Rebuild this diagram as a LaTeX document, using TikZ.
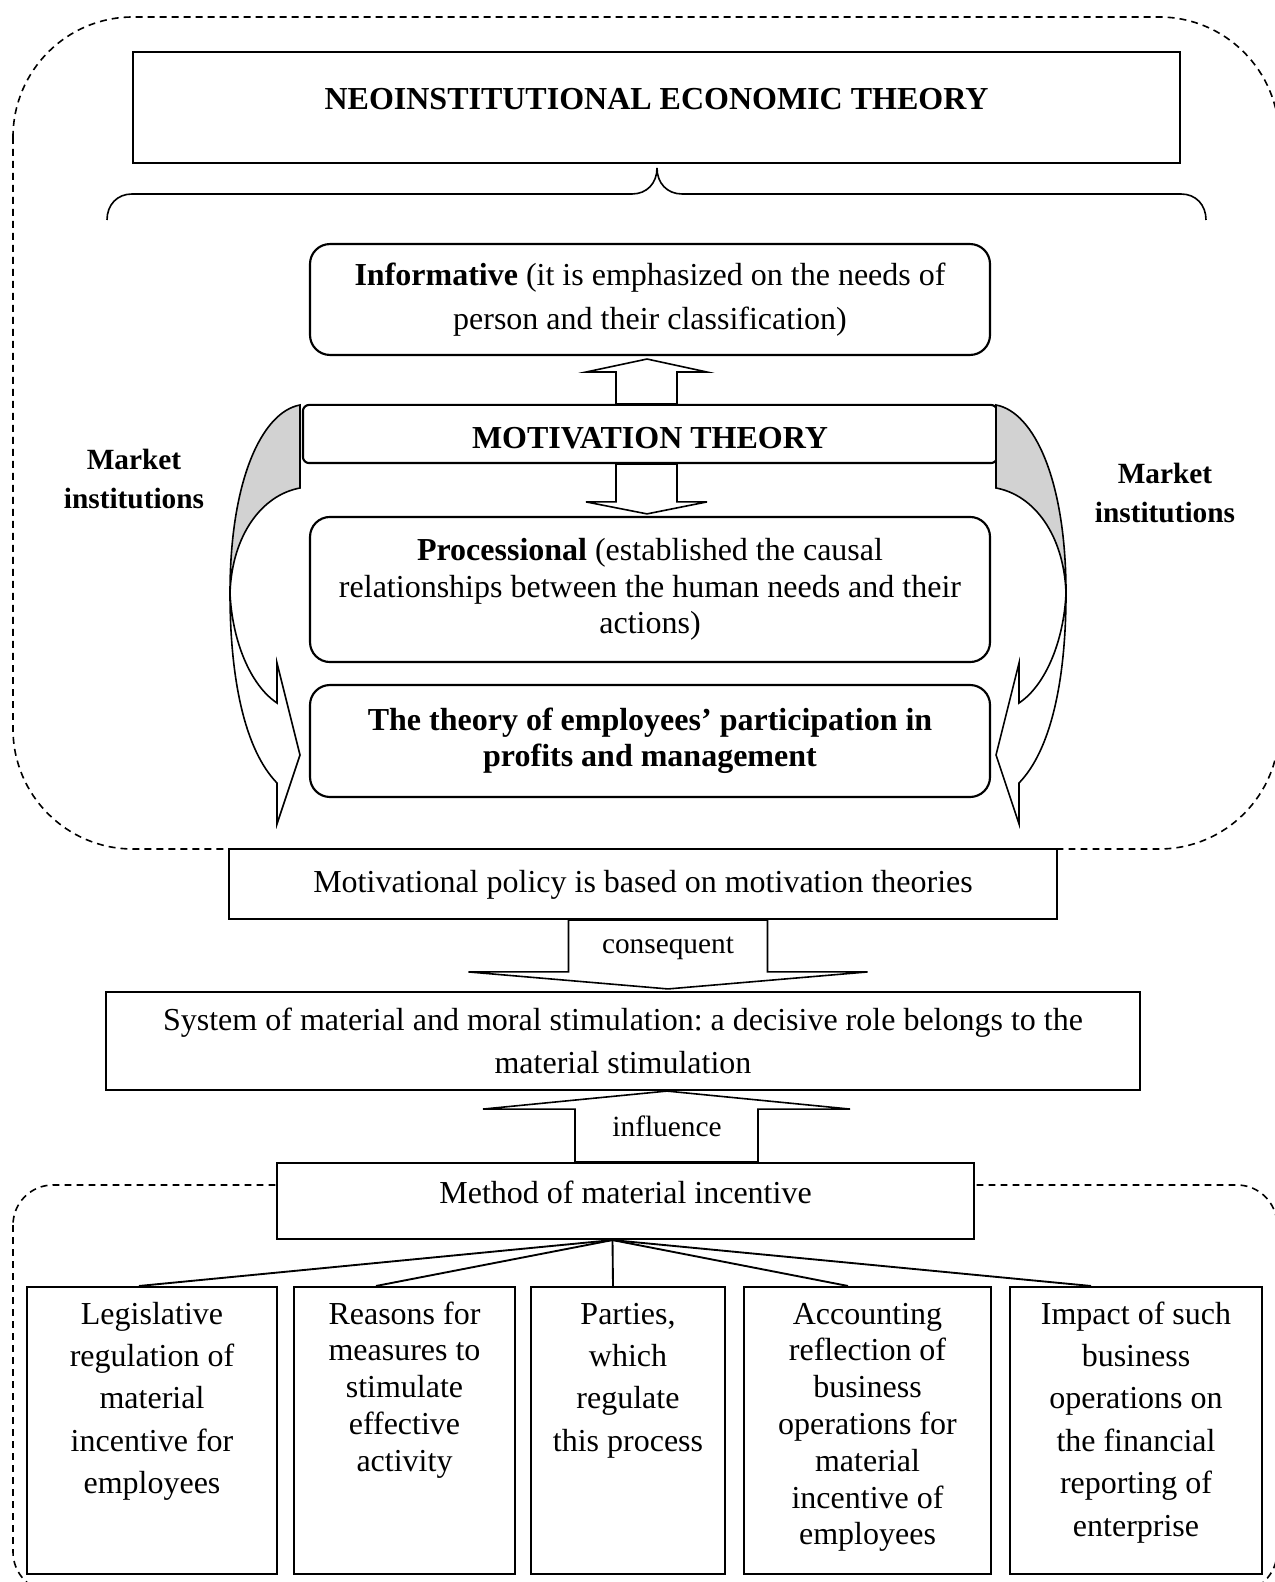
\documentclass[tikz,border=0pt]{standalone}
\usepackage{fontspec}
\setmainfont{Liberation Serif}
\usetikzlibrary{calc}
\frenchspacing

\begin{document}
\begin{tikzpicture}[x=0.375pt, y=-0.375pt,
  frame/.style={draw, line width=0.8pt, fill=white, inner sep=0pt},
  roundframe/.style={frame, rounded corners=7.5pt, align=center},
  leafbox/.style={frame, font=\fontsize{12}{15.9}\selectfont},
  blockarrow/.style={draw, line width=0.6pt, fill=white, line join=miter},
  sidearrow/.style={draw, line width=0.6pt, line join=miter},
  link/.style={draw, line width=0.7pt},
  zone/.style={draw, line width=0.6pt, dash pattern=on 2.6pt off 1.9pt},
  armlabel/.style={font=\fontsize{11}{13}\selectfont},
  marketlabel/.style={font=\fontsize{11}{14.3}\selectfont\bfseries, align=center}]

  \useasboundingbox (0,0) rectangle (1274,1582);

  % Dashed zones
  \draw[zone, rounded corners=45pt] (13,17) rectangle (1279,849);
  \draw[zone, rounded corners=15pt] (13,1185) rectangle (1277,1592);

  % Title
  \node[frame, minimum width=392.6pt, text height=21.6pt, text depth=20pt,
        font=\fontsize{12}{14}\selectfont\bfseries] (neo) at (656.5,107.5)
    {NEOINSTITUTIONAL ECONOMIC THEORY};

  % Brace
  \draw[line width=0.6pt] (107,220) .. controls (107,205) and (117,194) .. (132,194)
        -- (632,194) .. controls (647,194) and (657,183) .. (657,168)
        .. controls (657,183) and (667,194) .. (682,194)
        -- (1181,194) .. controls (1196,194) and (1206,205) .. (1206,220);

  % Theories
  \node[roundframe, minimum width=255pt, minimum height=41.6pt,
        font=\fontsize{12}{16.6}\selectfont] (inform) at (650,299.5)
    {\textbf{Informative} (it is emphasized on the needs of\\person and their classification)};
  \node[frame, rounded corners=2.3pt, minimum width=260.3pt, text height=16.4pt, text depth=5.4pt,
        font=\fontsize{12}{14}\selectfont\bfseries] (motiv) at (650,434)
    {MOTIVATION THEORY};
  \node[roundframe, minimum width=255pt, minimum height=54.4pt,
        font=\fontsize{12}{13.6}\selectfont] (proc) at (650,589.5)
    {\textbf{Processional} (established the causal\\relationships between the human needs and their\\actions)};
  \node[roundframe, minimum width=255pt, minimum height=42pt,
        font=\fontsize{12}{13.6}\selectfont\bfseries] (part) at (650,741)
    {The theory of employees’ participation in\\profits and management};

  % Arrows between theories
  \draw[blockarrow] ($(motiv.north)+(-34,0)$) -- ($(inform.south)+(-34,16)$)
        -- ($(inform.south)+(-64,16)$) -- ($(inform.south)+(-3,3)$)
        -- ($(inform.south)+(57,16)$) -- ($(inform.south)+(27,16)$)
        -- ($(motiv.north)+(27,0)$) -- cycle;
  \draw[blockarrow] ($(motiv.south)+(-34,0)$) -- ($(proc.north)+(-34,-14)$)
        -- ($(proc.north)+(-64,-14)$) -- ($(proc.north)+(-3,-2)$)
        -- ($(proc.north)+(57,-14)$) -- ($(proc.north)+(27,-14)$)
        -- ($(motiv.south)+(27,0)$) -- cycle;

  % Market institutions
  \node[marketlabel] (mktL) at (134,479) {Market\\institutions};
  \node[marketlabel] (mktR) at (1165,493) {Market\\institutions};

  % Curved arrows, left
  \draw[sidearrow, fill=gray!35] (300,405) .. controls (262,412) and (230,480) .. (230,593)
        .. controls (232,535) and (262,495) .. (300,488) -- cycle;
  \draw[sidearrow] (230,593) .. controls (230,680) and (245,750) .. (277,783)
        -- (277,824) -- (300,755) -- (277,663) -- (277,703)
        .. controls (250,685) and (232,640) .. (230,593);

  % Curved arrows, right
  \draw[sidearrow, fill=gray!35] (996,405) .. controls (1034,412) and (1066,480) .. (1066,593)
        .. controls (1064,535) and (1034,495) .. (996,488) -- cycle;
  \draw[sidearrow] (1066,593) .. controls (1066,680) and (1051,750) .. (1019,783)
        -- (1019,824) -- (996,755) -- (1019,663) -- (1019,703)
        .. controls (1046,685) and (1064,640) .. (1066,593);

  % Policy and stimulation
  \node[frame, minimum width=310.5pt, text height=16.1pt, text depth=10.1pt,
        font=\fontsize{12}{14}\selectfont] (policy) at (643,884)
    {Motivational policy is based on motivation theories};
  \node[frame, align=center, minimum width=387.75pt, minimum height=36.75pt,
        font=\fontsize{12}{15.9}\selectfont] (system) at (623,1041)
    {System of material and moral stimulation: a decisive role belongs to the\\material stimulation};
  \node[frame, minimum width=261.4pt, text height=15pt, text depth=13.5pt,
        font=\fontsize{12}{14}\selectfont] (method) at (625.5,1201)
    {Method of material incentive};

  \draw[blockarrow] ($(policy.south)+(-74.5,0)$) -- ($(system.north)+(-54.5,-19)$)
        -- ($(system.north)+(-154.5,-19)$) -- ($(system.north)+(45,-2)$)
        -- ($(system.north)+(244.5,-19)$) -- ($(system.north)+(144.5,-19)$)
        -- ($(policy.south)+(124.5,0)$) -- cycle;
  \draw[blockarrow] ($(method.north)+(-50.5,0)$) -- ($(system.south)+(-48,18)$)
        -- ($(system.south)+(-140,18)$) -- ($(system.south)+(44,0)$)
        -- ($(system.south)+(227,18)$) -- ($(system.south)+(135,18)$)
        -- ($(method.north)+(132.5,0)$) -- cycle;
  \node[armlabel] (conseq) at (668,948) {consequent};
  \node[armlabel] (infl) at (667,1126) {influence};

  % Elements of the method
  \node[leafbox] (b1) at (152,1430.5)
    {\parbox[c][107.6pt][t]{93.75pt}{\centering\rule{0pt}{13.9pt}Legislative\\regulation of\\material\\incentive for\\employees}};
  \node[leafbox] (b2) at (404.5,1430.5)
    {\parbox[c][107.6pt][t]{82.9pt}{\fontsize{12}{13.8}\selectfont\centering\rule{0pt}{13.9pt}Reasons for\\measures to\\stimulate\\effective\\activity}};
  \node[leafbox] (b3) at (628,1430.5)
    {\parbox[c][107.6pt][t]{72.75pt}{\centering\rule{0pt}{13.9pt}Parties,\\which\\regulate\\this process}};
  \node[leafbox] (b4) at (867.5,1430.5)
    {\parbox[c][107.6pt][t]{92.6pt}{\fontsize{12}{13.8}\selectfont\centering\rule{0pt}{13.9pt}Accounting\\reflection of\\business\\operations for\\material\\incentive of\\employees}};
  \node[leafbox] (b5) at (1136,1430.5)
    {\parbox[c][107.6pt][t]{94.5pt}{\centering\rule{0pt}{13.9pt}Impact of such\\business\\operations on\\the financial\\reporting of\\enterprise}};

  % Links
  \coordinate (hub) at ($(method.south)+(-13,0)$);
  \draw[link] (hub) -- ($(b1.north)+(-13,0)$);
  \draw[link] (hub) -- ($(b2.north)+(-28.5,0)$);
  \draw[link] (hub) -- ($(b3.north)+(-15,0)$);
  \draw[link] (hub) -- ($(b4.north)+(-19.5,0)$);
  \draw[link] (hub) -- ($(b5.north)+(-45,0)$);
\end{tikzpicture}
\end{document}
